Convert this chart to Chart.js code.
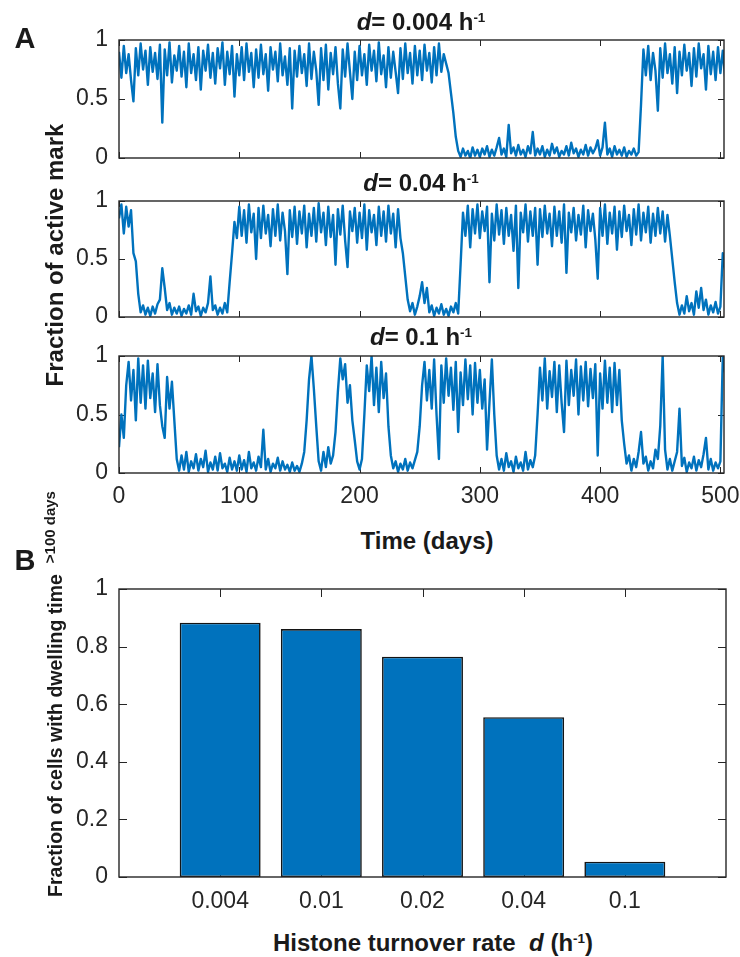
<!DOCTYPE html>
<html>
<head>
<meta charset="utf-8">
<script src="https://cdn.jsdelivr.net/npm/chart.js@4.4.0/dist/chart.umd.min.js"></script>
<style>
html, body { margin: 0; padding: 0; background: #ffffff; }
#page { position: relative; width: 740px; height: 957px; overflow: hidden;
  font-family: "Liberation Sans", Arial, Helvetica, sans-serif; color: #1a1a1a; }
canvas { position: absolute; left: 0; }
.lbl { position: absolute; white-space: nowrap; font-weight: bold; line-height: 1;
  transform: translate(-50%, -50%); }
.rot { transform: translate(-50%, -50%) rotate(-90deg); }
.lbl sup { font-size: 0.56em; vertical-align: 0.62em; line-height: 0; }
</style>
</head>
<body>
<div id="page">
  <canvas id="a1" width="740" height="150" style="top:24px;width:740px;height:150px"></canvas>
  <canvas id="a2" width="740" height="148" style="top:185px;width:740px;height:148px"></canvas>
  <canvas id="a3" width="740" height="178" style="top:340px;width:740px;height:178px"></canvas>
  <canvas id="b" width="740" height="349" style="top:573px;width:740px;height:349px"></canvas>

  <div class="lbl" style="left:25px;top:38px;font-size:29px">A</div>
  <div class="lbl" style="left:25px;top:560px;font-size:29px">B</div>

  <div class="lbl" style="left:421px;top:22px;font-size:24px"><i>d</i>= 0.004 h<sup>-1</sup></div>
  <div class="lbl" style="left:421px;top:183px;font-size:24px"><i>d</i>= 0.04 h<sup>-1</sup></div>
  <div class="lbl" style="left:421px;top:337px;font-size:24px"><i>d</i>= 0.1 h<sup>-1</sup></div>

  <div class="lbl rot" style="left:55px;top:255px;font-size:24px">Fraction of active mark</div>
  <div class="lbl" style="left:427px;top:541px;font-size:24px">Time (days)</div>

  <div class="lbl rot" style="left:56px;top:694px;font-size:19.5px">Fraction of cells with dwelling time&nbsp; <span style="font-size:15px;position:relative;top:-7px">&gt;100 days</span></div>
  <div class="lbl" style="left:433px;top:943px;font-size:24px">Histone turnover rate&nbsp; <i>d</i> (h<sup>-1</sup>)</div>
</div>

<script>
// ---------------- DATA ----------------
// Panel A: fraction of active mark, read every 2 days from day 0 to day 504
const sampleStepDays = 2;

const activeMark_d0004 = [
  0.90, 0.68, 0.95, 0.72, 0.88, 0.66, 0.48, 0.93, 0.70, 0.97, 0.75, 0.91, 0.62, 0.94, 0.73, 0.89, 0.67, 0.96, 0.30, 0.92, 0.70, 0.98, 0.64, 0.87, 0.74,
  0.95, 0.69, 0.90, 0.60, 0.97, 0.72, 0.88, 0.66, 0.94, 0.58, 0.91, 0.74, 0.96, 0.68, 0.89, 0.63, 0.93, 0.76, 0.98, 0.62, 0.90, 0.71, 0.95, 0.52, 0.88,
  0.70, 0.94, 0.66, 0.97, 0.73, 0.89, 0.60, 0.92, 0.68, 0.96, 0.71, 0.88, 0.57, 0.94, 0.75, 0.90, 0.65, 0.97, 0.70, 0.86, 0.62, 0.93, 0.42, 0.91, 0.69,
  0.95, 0.72, 0.88, 0.61, 0.97, 0.67, 0.90, 0.74, 0.45, 0.93, 0.66, 0.96, 0.58, 0.89, 0.71, 0.94, 0.63, 0.42, 0.92, 0.69, 0.97, 0.73, 0.50, 0.90, 0.66,
  0.95, 0.70, 0.88, 0.62, 0.96, 0.74, 0.91, 0.65, 0.98, 0.71, 0.87, 0.60, 0.94, 0.68, 0.90, 0.73, 0.55, 0.93, 0.67, 0.97, 0.72, 0.89, 0.63, 0.95, 0.70,
  0.91, 0.66, 0.96, 0.74, 0.89, 0.64, 0.94, 0.70, 0.97, 0.73, 0.88, 0.80, 0.72, 0.55, 0.38, 0.18, 0.06, 0.01, 0.08, 0.02, 0.06, 0.00, 0.09, 0.02, 0.07,
  0.01, 0.08, 0.03, 0.10, 0.01, 0.07, 0.02, 0.09, 0.17, 0.03, 0.08, 0.01, 0.28, 0.04, 0.09, 0.02, 0.11, 0.03, 0.07, 0.01, 0.10, 0.04, 0.22, 0.02, 0.08,
  0.03, 0.10, 0.01, 0.07, 0.02, 0.12, 0.04, 0.09, 0.01, 0.06, 0.03, 0.10, 0.02, 0.13, 0.04, 0.08, 0.01, 0.07, 0.03, 0.11, 0.02, 0.09, 0.04, 0.08, 0.15,
  0.02, 0.09, 0.30, 0.03, 0.08, 0.01, 0.10, 0.03, 0.07, 0.02, 0.09, 0.01, 0.06, 0.03, 0.08, 0.02, 0.05, 0.45, 0.92, 0.70, 0.95, 0.66, 0.89, 0.74, 0.40,
  0.93, 0.68, 0.97, 0.72, 0.88, 0.63, 0.94, 0.55, 0.90, 0.70, 0.96, 0.74, 0.89, 0.61, 0.93, 0.69, 0.97, 0.76, 0.88, 0.58, 0.95, 0.71, 0.90, 0.66, 0.94,
  0.72, 0.91, 0.68
];

const activeMark_d004 = [
  0.85, 0.97, 0.72, 0.95, 0.78, 0.92, 0.55, 0.48, 0.20, 0.04, 0.10, 0.02, 0.08, 0.01, 0.09, 0.03, 0.11, 0.15, 0.42, 0.25, 0.06, 0.12, 0.02, 0.08, 0.03,
  0.09, 0.01, 0.07, 0.03, 0.10, 0.02, 0.20, 0.05, 0.09, 0.01, 0.08, 0.04, 0.12, 0.35, 0.06, 0.10, 0.02, 0.08, 0.03, 0.12, 0.04, 0.30, 0.55, 0.82, 0.68,
  0.95, 0.70, 0.92, 0.64, 0.97, 0.73, 0.89, 0.50, 0.94, 0.68, 0.96, 0.72, 0.88, 0.61, 0.93, 0.70, 0.97, 0.66, 0.90, 0.74, 0.37, 0.92, 0.69, 0.95, 0.63,
  0.91, 0.72, 0.96, 0.60, 0.89, 0.70, 0.94, 0.65, 0.98, 0.73, 0.90, 0.62, 0.95, 0.69, 0.88, 0.45, 0.93, 0.71, 0.96, 0.66, 0.43, 0.91, 0.74, 0.94, 0.64,
  0.90, 0.68, 0.97, 0.58, 0.92, 0.73, 0.88, 0.62, 0.95, 0.70, 0.91, 0.65, 0.96, 0.72, 0.89, 0.60, 0.93, 0.68, 0.55, 0.35, 0.15, 0.05, 0.12, 0.02, 0.09,
  0.18, 0.30, 0.12, 0.25, 0.04, 0.10, 0.01, 0.08, 0.03, 0.11, 0.02, 0.07, 0.01, 0.09, 0.04, 0.12, 0.03, 0.45, 0.90, 0.70, 0.96, 0.60, 0.93, 0.72, 0.97,
  0.68, 0.91, 0.74, 0.95, 0.30, 0.89, 0.66, 0.97, 0.71, 0.92, 0.63, 0.94, 0.70, 0.88, 0.57, 0.96, 0.25, 0.90, 0.73, 0.97, 0.65, 0.91, 0.70, 0.94, 0.45,
  0.93, 0.69, 0.96, 0.72, 0.89, 0.61, 0.95, 0.70, 0.91, 0.64, 0.97, 0.38, 0.90, 0.73, 0.94, 0.66, 0.88, 0.71, 0.96, 0.60, 0.92, 0.74, 0.89, 0.67, 0.33,
  0.94, 0.70, 0.97, 0.63, 0.90, 0.72, 0.95, 0.58, 0.91, 0.69, 0.96, 0.74, 0.88, 0.62, 0.93, 0.71, 0.97, 0.66, 0.90, 0.73, 0.95, 0.64, 0.89, 0.70, 0.94,
  0.72, 0.91, 0.65, 0.88, 0.70, 0.50, 0.30, 0.12, 0.02, 0.10, 0.03, 0.18, 0.05, 0.12, 0.02, 0.22, 0.08, 0.25, 0.06, 0.15, 0.02, 0.10, 0.04, 0.13, 0.03,
  0.09, 0.55, 0.40
];

const activeMark_d01 = [
  0.22, 0.50, 0.30, 0.75, 0.95, 0.62, 0.88, 0.45, 0.98, 0.60, 0.92, 0.55, 0.96, 0.64, 0.85, 0.52, 0.93, 0.58, 0.40, 0.30, 0.82, 0.55, 0.78, 0.45, 0.12,
  0.02, 0.15, 0.03, 0.18, 0.01, 0.10, 0.04, 0.16, 0.02, 0.12, 0.05, 0.19, 0.01, 0.09, 0.03, 0.14, 0.02, 0.17, 0.04, 0.08, 0.01, 0.13, 0.03, 0.10, 0.02,
  0.15, 0.03, 0.11, 0.01, 0.18, 0.04, 0.09, 0.02, 0.14, 0.05, 0.37, 0.03, 0.12, 0.01, 0.08, 0.04, 0.13, 0.02, 0.10, 0.03, 0.07, 0.01, 0.09, 0.02, 0.06,
  0.01, 0.08, 0.18, 0.45, 0.80, 1.00, 0.72, 0.40, 0.10, 0.02, 0.18, 0.05, 0.22, 0.08, 0.15, 0.35, 0.70, 0.98, 0.80, 0.93, 0.60, 0.75, 0.45, 0.28, 0.10,
  0.03, 0.12, 0.50, 0.92, 0.70, 1.00, 0.58, 0.90, 0.52, 0.95, 0.64, 0.85, 0.40, 0.15, 0.04, 0.10, 0.01, 0.08, 0.03, 0.12, 0.02, 0.09, 0.04, 0.11, 0.18,
  0.40, 0.75, 0.95, 0.62, 0.88, 0.55, 0.97, 0.50, 0.12, 0.92, 0.60, 0.98, 0.66, 0.90, 0.54, 0.95, 0.35, 0.86, 0.58, 0.97, 0.63, 0.92, 0.50, 0.94, 0.60,
  0.88, 0.55, 0.80, 0.20, 0.60, 0.97, 0.50, 0.15, 0.03, 0.12, 0.02, 0.17, 0.05, 0.10, 0.01, 0.14, 0.04, 0.09, 0.02, 0.18, 0.03, 0.11, 0.05, 0.15, 0.50,
  0.90, 0.62, 0.98, 0.55, 0.87, 0.65, 0.95, 0.52, 0.92, 0.60, 0.35, 0.96, 0.58, 0.88, 0.66, 0.97, 0.50, 0.91, 0.62, 0.95, 0.57, 0.89, 0.64, 0.93, 0.15,
  0.85, 0.55, 0.96, 0.60, 0.90, 0.52, 0.94, 0.58, 0.88, 0.45, 0.25, 0.08, 0.15, 0.02, 0.12, 0.05, 0.18, 0.35, 0.08, 0.14, 0.02, 0.10, 0.04, 0.20, 0.12,
  0.40, 1.00, 0.20, 0.03, 0.12, 0.02, 0.10, 0.18, 0.55, 0.06, 0.13, 0.01, 0.09, 0.04, 0.14, 0.02, 0.11, 0.05, 0.16, 0.30, 0.03, 0.12, 0.02, 0.09, 0.04,
  0.10, 1.00, 0.85
];

const timeTicksDays = [0, 100, 200, 300, 400, 500];
const fractionTicksA = [0, 0.5, 1];

// Panel B: fraction of cells with dwelling time > 100 days per histone turnover rate
const turnoverRates = ['0.004', '0.01', '0.02', '0.04', '0.1'];
const dwellingFractions = [0.883, 0.861, 0.765, 0.555, 0.053];
const fractionTicksB = [0, 0.2, 0.4, 0.6, 0.8, 1];

// ---------------- STYLE ----------------
const FONT = '"Liberation Sans", Arial, Helvetica, sans-serif';
const MATLAB_BLUE = '#0072BD';
const AXIS_COLOR = '#262626';
const TICK_FONT = { family: FONT, size: 23 };
const fmtNum = v => String(Number(Number(v).toFixed(3)));

const matlabAxes = {
  id: 'matlabAxes',
  beforeDatasetsDraw(chart, args, opts) {
    const { ctx, chartArea: a } = chart;
    const xs = chart.scales.x, ys = chart.scales.y;
    const L = opts.tickLen || 6;
    ctx.save();
    ctx.strokeStyle = AXIS_COLOR;
    ctx.lineWidth = 1;
    ctx.beginPath();
    xs.ticks.forEach(t => {
      if (opts.skipEdgeX && (t.value <= xs.min || t.value >= xs.max)) return;
      const px = Math.round(xs.getPixelForValue(t.value)) + 0.5;
      ctx.moveTo(px, a.bottom); ctx.lineTo(px, a.bottom - L);
      ctx.moveTo(px, a.top); ctx.lineTo(px, a.top + L);
    });
    ys.ticks.forEach(t => {
      const py = Math.round(ys.getPixelForValue(t.value)) + 0.5;
      ctx.moveTo(a.left, py); ctx.lineTo(a.left + L, py);
      ctx.moveTo(a.right, py); ctx.lineTo(a.right - L, py);
    });
    ctx.stroke();
    ctx.restore();
  },
  afterDatasetsDraw(chart) {
    const { ctx, chartArea: a } = chart;
    ctx.save();
    ctx.strokeStyle = AXIS_COLOR;
    ctx.lineWidth = 1.4;
    ctx.strokeRect(a.left, a.top, a.right - a.left, a.bottom - a.top);
    ctx.restore();
  }
};

function fixedWidth(w) {
  return s => { s.width = w; s.paddingTop = 0; s.paddingBottom = 0; s.paddingLeft = 0; s.paddingRight = 0; };
}
function fixedHeight(h) {
  return s => { s.height = h; s.paddingTop = 0; s.paddingBottom = 0; s.paddingLeft = 0; s.paddingRight = 0; };
}

function traceChart(id, values, showTimeLabels) {
  const pts = values.map((v, i) => ({ x: i * sampleStepDays, y: v }));
  return new Chart(document.getElementById(id), {
    type: 'line',
    data: { datasets: [{
      data: pts, borderColor: MATLAB_BLUE, borderWidth: 2.4, pointRadius: 0,
      tension: 0, fill: false, borderJoinStyle: 'round'
    }] },
    options: {
      responsive: false, animation: false, events: [],
      layout: { padding: { top: 16, right: 16, left: 0, bottom: showTimeLabels ? 0 : 16 } },
      plugins: { legend: { display: false }, tooltip: { enabled: false }, matlabAxes: { tickLen: 6 } },
      scales: {
        x: {
          type: 'linear', min: 0, max: 503,
          afterFit: fixedHeight(showTimeLabels ? 45 : 0),
          afterBuildTicks: s => { s.ticks = timeTicksDays.map(v => ({ value: v })); },
          grid: { display: false, drawTicks: false }, border: { display: false },
          ticks: { display: showTimeLabels, padding: 10, font: TICK_FONT, color: AXIS_COLOR,
                   maxRotation: 0, autoSkip: false, callback: fmtNum }
        },
        y: {
          min: 0, max: 1,
          afterFit: fixedWidth(119),
          afterBuildTicks: s => { s.ticks = fractionTicksA.map(v => ({ value: v })); },
          grid: { display: false, drawTicks: false }, border: { display: false },
          ticks: { padding: 11, font: TICK_FONT, color: AXIS_COLOR, callback: fmtNum }
        }
      }
    },
    plugins: [matlabAxes]
  });
}

traceChart('a1', activeMark_d0004, false);
traceChart('a2', activeMark_d004, false);
traceChart('a3', activeMark_d01, true);

new Chart(document.getElementById('b'), {
  type: 'bar',
  data: { datasets: [{
    data: turnoverRates.map((r, i) => ({ x: i + 1, y: dwellingFractions[i] })),
    backgroundColor: MATLAB_BLUE, borderColor: '#141414', borderWidth: 1.6,
    borderSkipped: false, barPercentage: 0.8, categoryPercentage: 1.0
  }] },
  options: {
    responsive: false, animation: false, events: [],
    layout: { padding: { top: 16, right: 14, left: 0, bottom: 0 } },
    plugins: { legend: { display: false }, tooltip: { enabled: false }, matlabAxes: { tickLen: 8, skipEdgeX: true } },
    scales: {
      x: {
        type: 'linear', min: 0, max: turnoverRates.length + 1, offset: false,
        afterFit: fixedHeight(45),
        afterBuildTicks: s => { s.ticks = [0].concat(turnoverRates.map((r, i) => i + 1), [turnoverRates.length + 1]).map(v => ({ value: v })); },
        grid: { display: false, drawTicks: false }, border: { display: false },
        ticks: { padding: 11, font: TICK_FONT, color: AXIS_COLOR, maxRotation: 0, autoSkip: false,
                 callback: v => turnoverRates[v - 1] !== undefined ? turnoverRates[v - 1] : '' }
      },
      y: {
        min: 0, max: 1,
        afterFit: fixedWidth(119),
        afterBuildTicks: s => { s.ticks = fractionTicksB.map(v => ({ value: v })); },
        grid: { display: false, drawTicks: false }, border: { display: false },
        ticks: { padding: 11, font: TICK_FONT, color: AXIS_COLOR, callback: fmtNum }
      }
    }
  },
  plugins: [matlabAxes]
});
</script>
</body>
</html>
